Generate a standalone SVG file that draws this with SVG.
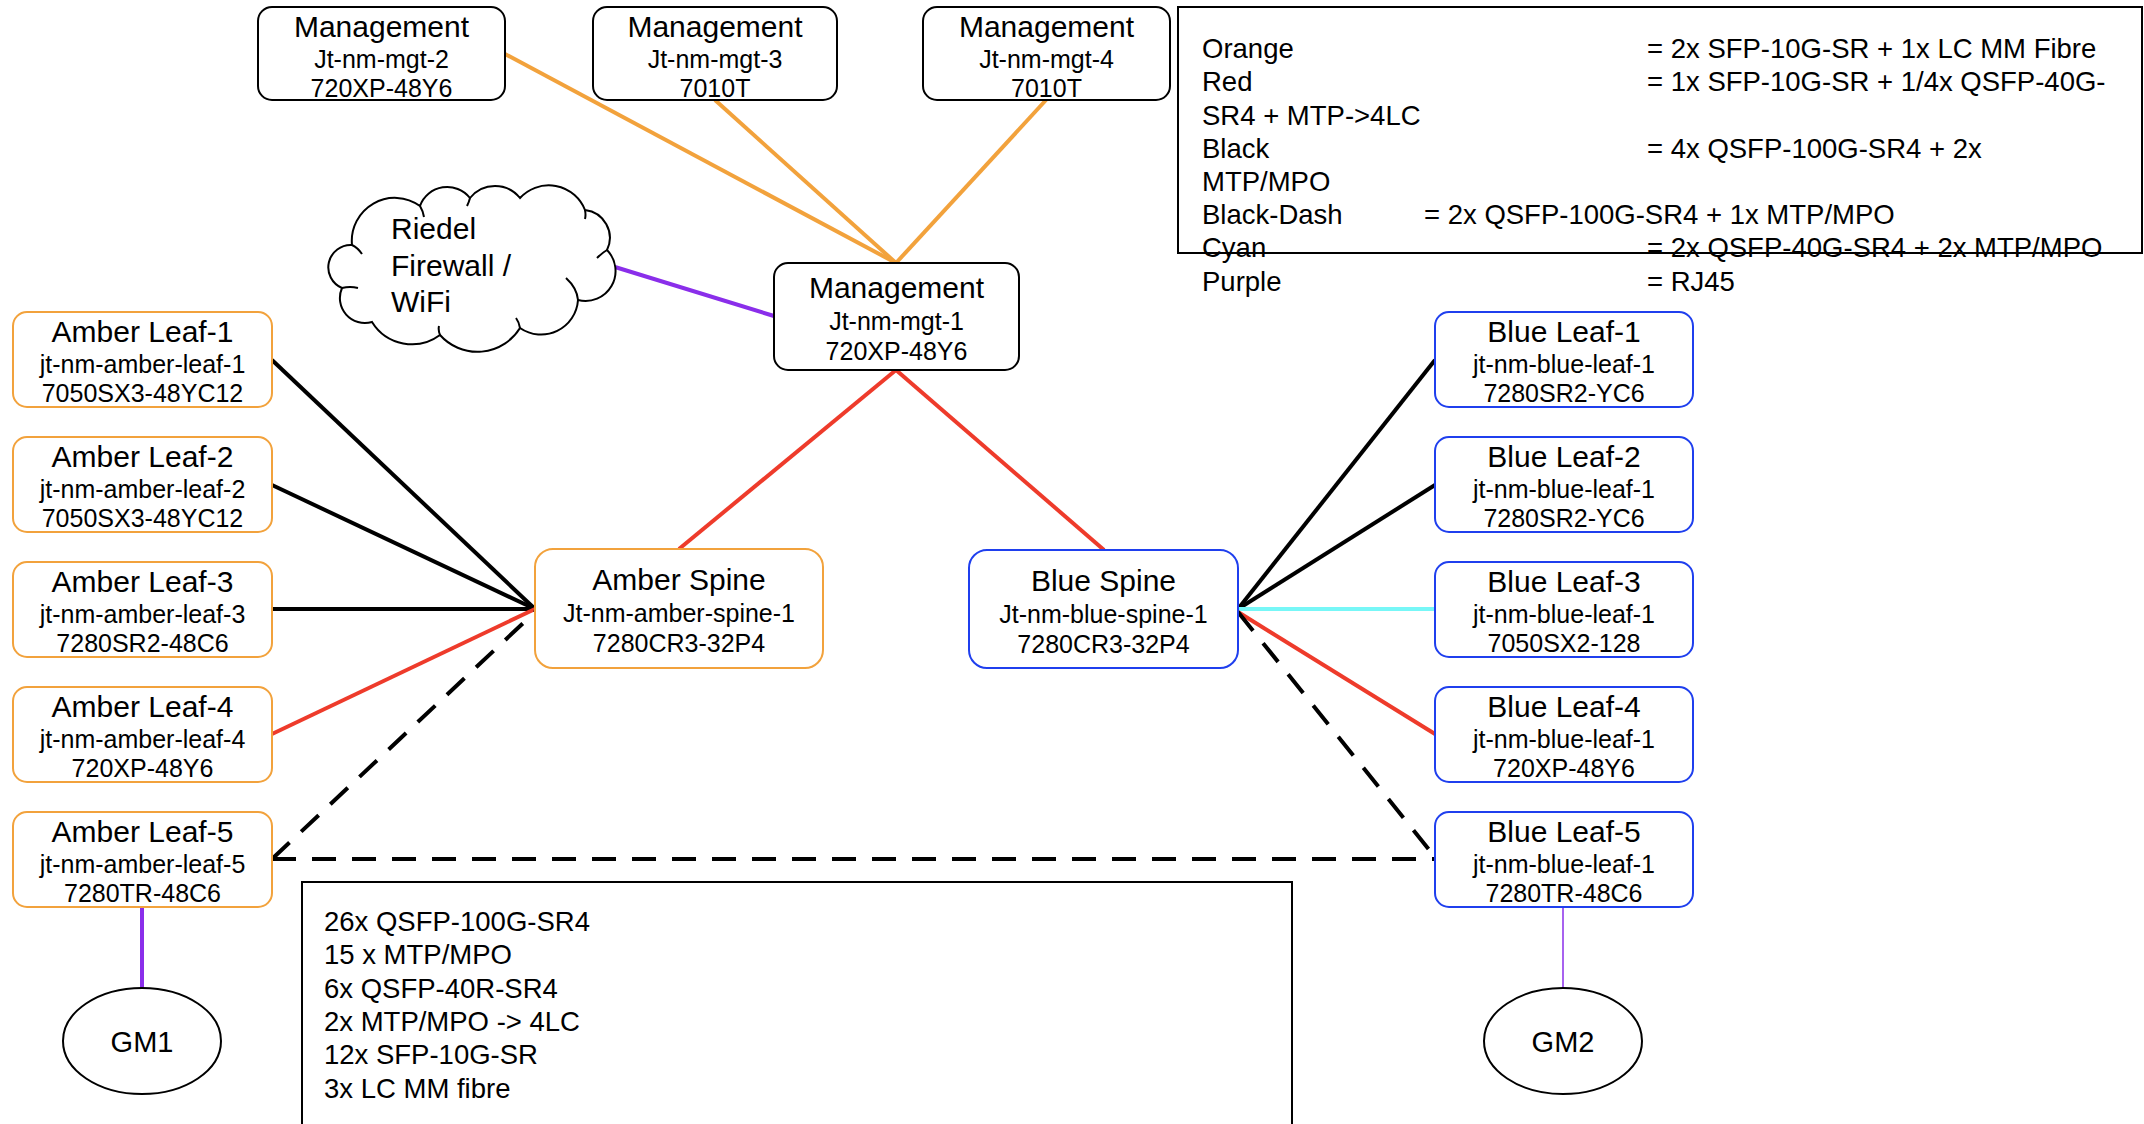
<svg xmlns="http://www.w3.org/2000/svg" width="2144" height="1124" viewBox="0 0 2144 1124">
<style>
text{font-family:"Liberation Sans",Arial,Helvetica,sans-serif;fill:#000}
.t1{font-size:30px;text-anchor:middle}
.t2{font-size:25px;text-anchor:middle}
.lg{font-size:27.5px}
.inv{font-size:27.5px}
.box{fill:#fff;stroke-width:2}
.mgt{stroke:#000}
.amber{stroke:#F2A23C}
.blue{stroke:#1F3FEE}
.ln{fill:none;stroke-width:4}
.orange{stroke:#F2A23C}
.red{stroke:#EE3B2B}
.black{stroke:#000}
.cyan{stroke:#77F7F7}
.purple{stroke:#8A2EEA}
.dash{stroke:#000;stroke-dasharray:24 16}
</style>
<rect width="2144" height="1124" fill="#fff"/>
<g id="connectors">
<line class="ln orange" x1="505" y1="54" x2="896" y2="263"/>
<line class="ln orange" x1="715" y1="100" x2="896" y2="263"/>
<line class="ln orange" x1="1046" y1="100" x2="896" y2="263"/>
<line class="ln purple" x1="615" y1="267" x2="774" y2="316"/>
<line class="ln red" x1="896" y1="370" x2="679" y2="549"/>
<line class="ln red" x1="896" y1="370" x2="1104" y2="550"/>
<line class="ln black" x1="272" y1="360" x2="535" y2="609"/>
<line class="ln black" x1="272" y1="485" x2="535" y2="609"/>
<line class="ln black" x1="272" y1="609" x2="535" y2="609"/>
<line class="ln red" x1="272" y1="734" x2="535" y2="609"/>
<line class="ln dash" x1="272" y1="859" x2="535" y2="612"/>
<line class="ln black" x1="1238" y1="609" x2="1435" y2="360"/>
<line class="ln black" x1="1238" y1="609" x2="1435" y2="485"/>
<line class="ln cyan" x1="1238" y1="609" x2="1435" y2="609"/>
<line class="ln red" x1="1238" y1="612" x2="1435" y2="734"/>
<line class="ln dash" x1="1238" y1="612" x2="1435" y2="857"/>
<line class="ln dash" x1="272" y1="859" x2="1435" y2="859"/>
<line class="ln purple" x1="142" y1="907" x2="142" y2="988"/>
<line fill="none" stroke="#8A2EEA" stroke-width="1.5" x1="1563" y1="906" x2="1563" y2="988"/>
</g>
<g id="mgt-2"><rect class="box mgt" x="258" y="7" width="247" height="93" rx="14"/>
<text class="t1" x="381.5" y="37">Management</text><text class="t2" x="381.5" y="68">Jt-nm-mgt-2</text><text class="t2" x="381.5" y="97">720XP-48Y6</text></g>
<g id="mgt-3"><rect class="box mgt" x="593" y="7" width="244" height="93" rx="14"/>
<text class="t1" x="715" y="37">Management</text><text class="t2" x="715" y="68">Jt-nm-mgt-3</text><text class="t2" x="715" y="97">7010T</text></g>
<g id="mgt-4"><rect class="box mgt" x="923" y="7" width="247" height="93" rx="14"/>
<text class="t1" x="1046.5" y="37">Management</text><text class="t2" x="1046.5" y="68">Jt-nm-mgt-4</text><text class="t2" x="1046.5" y="97">7010T</text></g>
<g id="mgt-1"><rect class="box mgt" x="774" y="263" width="245" height="107" rx="14"/>
<text class="t1" x="896.5" y="298">Management</text><text class="t2" x="896.5" y="330">Jt-nm-mgt-1</text><text class="t2" x="896.5" y="360">720XP-48Y6</text></g>
<g id="cloud">
<path d="M352,245 A43,43 0 0 1 420,206 A29,29 0 0 1 470,198 A32,32 0 0 1 520,198 A39,39 0 0 1 585,210 A28,28 0 0 1 607,250 A30,30 0 0 1 578,300 A37,37 0 0 1 520,328 A50,50 0 0 1 440,335 A47,47 0 0 1 372,322 A25,25 0 0 1 342,288 A22.4,22.4 0 0 1 352,245 Z" fill="#fff" stroke="#000" stroke-width="2"/>
<path d="M352,245 q6,3 10,9 M420,206 q3,5 4,11 M470,198 q-1,4 -3,8 M585,210 q1,5 0,9 M607,250 q-5,3 -10,8 M578,300 q-1,-12 -12,-22 M520,328 q-1,-6 -4,-10 M440,335 q-2,-5 -1,-9 M342,288 q8,-2 16,0" fill="none" stroke="#000" stroke-width="2"/>
<text x="391" y="239" style="font-size:30px">Riedel</text>
<text x="391" y="276" style="font-size:30px">Firewall /</text>
<text x="391" y="312" style="font-size:30px">WiFi</text>
</g>
<g id="amber-leaf-1"><rect class="box amber" x="13" y="312" width="259" height="95" rx="14"/>
<text class="t1" x="142.5" y="342">Amber Leaf-1</text><text class="t2" x="142.5" y="373">jt-nm-amber-leaf-1</text><text class="t2" x="142.5" y="402">7050SX3-48YC12</text></g>
<g id="amber-leaf-2"><rect class="box amber" x="13" y="437" width="259" height="95" rx="14"/>
<text class="t1" x="142.5" y="467">Amber Leaf-2</text><text class="t2" x="142.5" y="498">jt-nm-amber-leaf-2</text><text class="t2" x="142.5" y="527">7050SX3-48YC12</text></g>
<g id="amber-leaf-3"><rect class="box amber" x="13" y="562" width="259" height="95" rx="14"/>
<text class="t1" x="142.5" y="592">Amber Leaf-3</text><text class="t2" x="142.5" y="623">jt-nm-amber-leaf-3</text><text class="t2" x="142.5" y="652">7280SR2-48C6</text></g>
<g id="amber-leaf-4"><rect class="box amber" x="13" y="687" width="259" height="95" rx="14"/>
<text class="t1" x="142.5" y="717">Amber Leaf-4</text><text class="t2" x="142.5" y="748">jt-nm-amber-leaf-4</text><text class="t2" x="142.5" y="777">720XP-48Y6</text></g>
<g id="amber-leaf-5"><rect class="box amber" x="13" y="812" width="259" height="95" rx="14"/>
<text class="t1" x="142.5" y="842">Amber Leaf-5</text><text class="t2" x="142.5" y="873">jt-nm-amber-leaf-5</text><text class="t2" x="142.5" y="902">7280TR-48C6</text></g>
<g id="amber-spine"><rect class="box amber" x="535" y="549" width="288" height="119" rx="18"/>
<text class="t1" x="679" y="590">Amber Spine</text><text class="t2" x="679" y="622">Jt-nm-amber-spine-1</text><text class="t2" x="679" y="652">7280CR3-32P4</text></g>
<g id="blue-spine"><rect class="box blue" x="969" y="550" width="269" height="118" rx="18"/>
<text class="t1" x="1103.5" y="591">Blue Spine</text><text class="t2" x="1103.5" y="623">Jt-nm-blue-spine-1</text><text class="t2" x="1103.5" y="653">7280CR3-32P4</text></g>
<g id="blue-leaf-1"><rect class="box blue" x="1435" y="312" width="258" height="95" rx="14"/>
<text class="t1" x="1564" y="342">Blue Leaf-1</text><text class="t2" x="1564" y="373">jt-nm-blue-leaf-1</text><text class="t2" x="1564" y="402">7280SR2-YC6</text></g>
<g id="blue-leaf-2"><rect class="box blue" x="1435" y="437" width="258" height="95" rx="14"/>
<text class="t1" x="1564" y="467">Blue Leaf-2</text><text class="t2" x="1564" y="498">jt-nm-blue-leaf-1</text><text class="t2" x="1564" y="527">7280SR2-YC6</text></g>
<g id="blue-leaf-3"><rect class="box blue" x="1435" y="562" width="258" height="95" rx="14"/>
<text class="t1" x="1564" y="592">Blue Leaf-3</text><text class="t2" x="1564" y="623">jt-nm-blue-leaf-1</text><text class="t2" x="1564" y="652">7050SX2-128</text></g>
<g id="blue-leaf-4"><rect class="box blue" x="1435" y="687" width="258" height="95" rx="14"/>
<text class="t1" x="1564" y="717">Blue Leaf-4</text><text class="t2" x="1564" y="748">jt-nm-blue-leaf-1</text><text class="t2" x="1564" y="777">720XP-48Y6</text></g>
<g id="blue-leaf-5"><rect class="box blue" x="1435" y="812" width="258" height="95" rx="14"/>
<text class="t1" x="1564" y="842">Blue Leaf-5</text><text class="t2" x="1564" y="873">jt-nm-blue-leaf-1</text><text class="t2" x="1564" y="902">7280TR-48C6</text></g>
<g id="gm1"><ellipse cx="142" cy="1041" rx="79" ry="53" fill="#fff" stroke="#000" stroke-width="2"/>
<text class="t1" x="142" y="1052" style="font-size:29px">GM1</text></g>
<g id="gm2"><ellipse cx="1563" cy="1041" rx="79" ry="53" fill="#fff" stroke="#000" stroke-width="2"/>
<text class="t1" x="1563" y="1052" style="font-size:29px">GM2</text></g>
<g id="legend">
<text class="lg" x="1202" y="58">Orange</text><text class="lg" x="1647" y="58">= 2x SFP-10G-SR + 1x LC MM Fibre</text>
<text class="lg" x="1202" y="91">Red</text><text class="lg" x="1647" y="91">= 1x SFP-10G-SR + 1/4x QSFP-40G-</text>
<text class="lg" x="1202" y="125">SR4 + MTP-&gt;4LC</text>
<text class="lg" x="1202" y="158">Black</text><text class="lg" x="1647" y="158">= 4x QSFP-100G-SR4 + 2x</text>
<text class="lg" x="1202" y="191">MTP/MPO</text>
<text class="lg" x="1202" y="224">Black-Dash</text><text class="lg" x="1424" y="224">= 2x QSFP-100G-SR4 + 1x MTP/MPO</text>
<text class="lg" x="1202" y="257">Cyan</text><text class="lg" x="1647" y="257">= 2x QSFP-40G-SR4 + 2x MTP/MPO</text>
<text class="lg" x="1202" y="291">Purple</text><text class="lg" x="1647" y="291">= RJ45</text>
<rect x="1178" y="7" width="964" height="246" fill="none" stroke="#000" stroke-width="2"/>
</g>
<g id="inventory">
<rect x="302" y="882" width="990" height="260" fill="none" stroke="#000" stroke-width="2"/>
<text class="inv" x="324" y="931">26x QSFP-100G-SR4</text>
<text class="inv" x="324" y="964">15 x MTP/MPO</text>
<text class="inv" x="324" y="998">6x QSFP-40R-SR4</text>
<text class="inv" x="324" y="1031">2x MTP/MPO -&gt; 4LC</text>
<text class="inv" x="324" y="1064">12x SFP-10G-SR</text>
<text class="inv" x="324" y="1098">3x LC MM fibre</text>
</g>
</svg>
